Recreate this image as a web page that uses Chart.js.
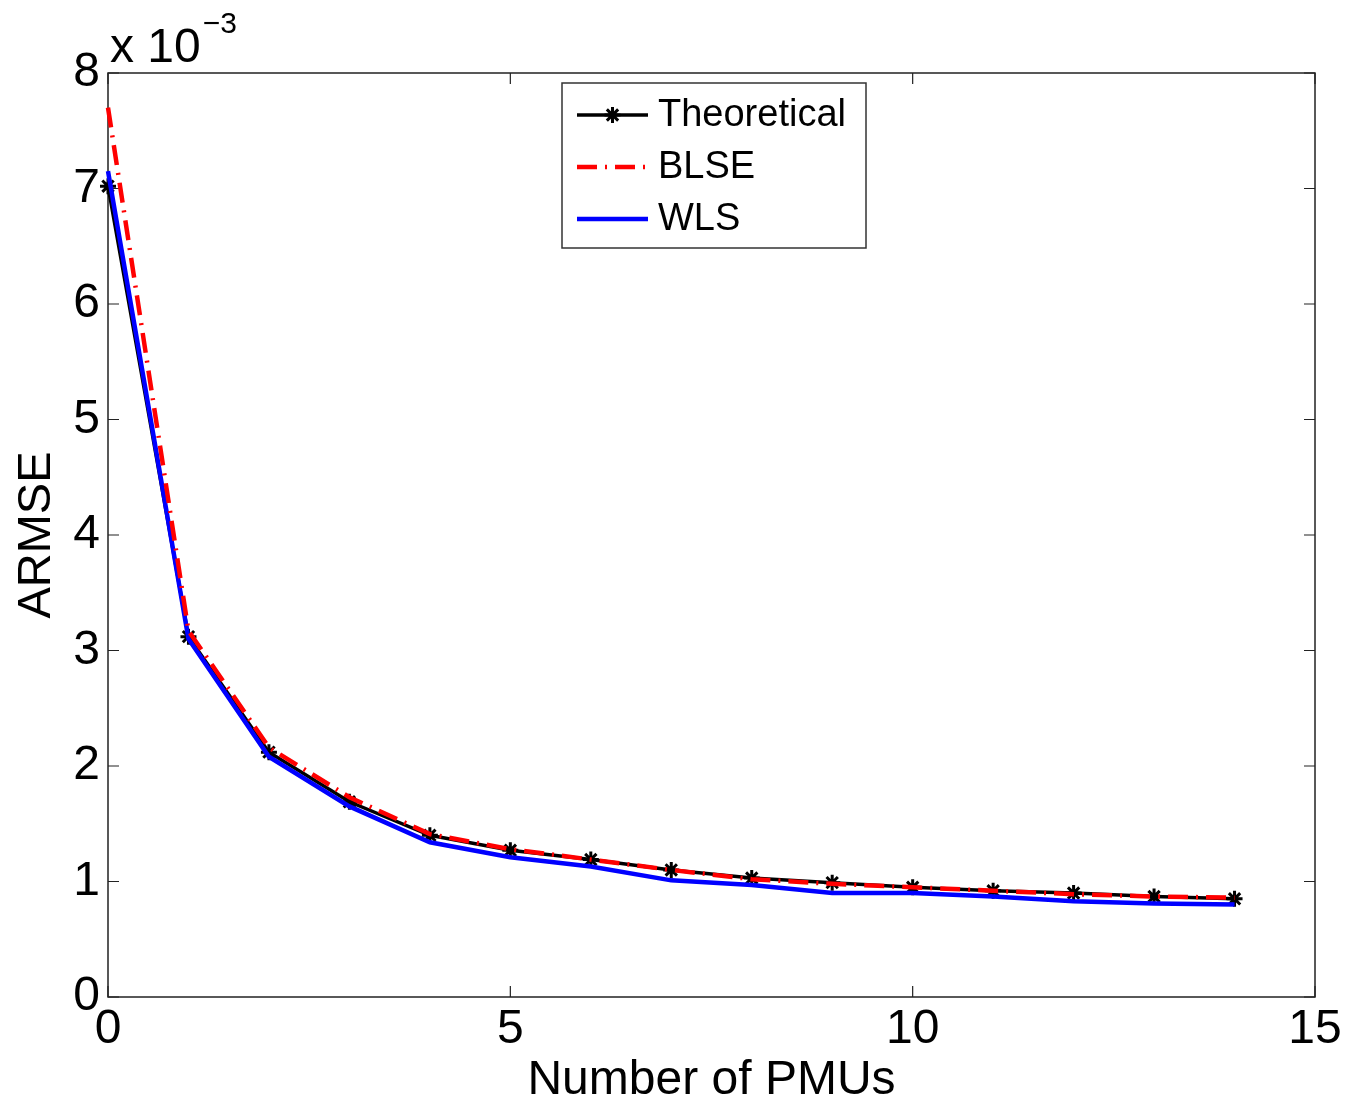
<!DOCTYPE html>
<html>
<head>
<meta charset="utf-8">
<script src="https://cdn.jsdelivr.net/npm/chart.js@4"></script>
<style>
html,body{margin:0;padding:0;background:#fff;}
#wrap{width:1348px;height:1102px;position:relative;}
</style>
</head>
<body>
<div id="wrap"><canvas id="c"></canvas></div>
<script>
// Values in units of 1e-3
const pmus = [0,1,2,3,4,5,6,7,8,9,10,11,12,13,14];
const theoretical = [7.02,3.12,2.12,1.69,1.40,1.27,1.19,1.10,1.03,0.99,0.95,0.92,0.90,0.87,0.85];
const blse        = [7.70,3.17,2.16,1.73,1.41,1.28,1.19,1.10,1.02,0.98,0.95,0.92,0.89,0.87,0.86];
const wls         = [7.15,3.10,2.08,1.65,1.34,1.21,1.13,1.01,0.97,0.90,0.90,0.87,0.83,0.81,0.80];
const xTicks = [0,5,10,15];
const yTicks = [0,1,2,3,4,5,6,7,8];
const seriesNames = ['Theoretical','BLSE','WLS'];
const exponentText = ['x 10','\u22123'];

const FONT = '"Liberation Sans", Arial, Helvetica, sans-serif';
const toXY = arr => arr.map((v,i)=>({x:pmus[i], y:v}));

const boxPlugin = {
  id:'box',
  beforeDatasetsDraw(chart){
    const {ctx, chartArea:a, scales:{x,y}} = chart;
    ctx.save();
    ctx.strokeStyle = '#222';
    ctx.lineWidth = 1.5;
    ctx.strokeRect(a.left, a.top, a.right-a.left, a.bottom-a.top);
    ctx.lineWidth = 1.2;
    const tl = 11;
    ctx.beginPath();
    xTicks.forEach(v=>{
      const px = x.getPixelForValue(v);
      ctx.moveTo(px,a.bottom); ctx.lineTo(px,a.bottom-tl);
      ctx.moveTo(px,a.top); ctx.lineTo(px,a.top+tl);
    });
    yTicks.forEach(v=>{
      const py = y.getPixelForValue(v);
      ctx.moveTo(a.left,py); ctx.lineTo(a.left+tl,py);
      ctx.moveTo(a.right,py); ctx.lineTo(a.right-tl,py);
    });
    ctx.stroke();
    ctx.restore();
  },
  afterDraw(chart){
    const {ctx, chartArea:a} = chart;
    ctx.save();
    // exponent label
    ctx.fillStyle = '#000';
    ctx.textBaseline = 'alphabetic';
    ctx.textAlign = 'left';
    ctx.font = '48px ' + FONT;
    ctx.fillText(exponentText[0], a.left + 2, 62);
    const w = ctx.measureText(exponentText[0]).width;
    ctx.font = '30px ' + FONT;
    ctx.fillText(exponentText[1], a.left + 4 + w, 33);
    // legend
    const lx = 562, ly = 83, lw = 304, lh = 165;
    ctx.fillStyle = '#fff';
    ctx.fillRect(lx, ly, lw, lh);
    ctx.strokeStyle = '#333';
    ctx.lineWidth = 1.5;
    ctx.strokeRect(lx, ly, lw, lh);
    const ds = chart.data.datasets;
    const rows = [115, 167, 219];
    [0,1,2].forEach((di, r)=>{
      const d = ds[di];
      const yy = rows[r];
      ctx.save();
      ctx.strokeStyle = d.borderColor;
      ctx.lineWidth = d.borderWidth;
      ctx.setLineDash(d.borderDash || []);
      ctx.beginPath();
      ctx.moveTo(577, yy); ctx.lineTo(648, yy);
      ctx.stroke();
      ctx.restore();
      if (d.pointRadius > 0) {
        ctx.save();
        ctx.strokeStyle = d.pointBorderColor;
        ctx.fillStyle = d.pointBackgroundColor;
        ctx.lineWidth = d.pointBorderWidth;
        Chart.helpers.drawPoint(ctx, {pointStyle:d.pointStyle, radius:d.pointRadius, borderWidth:d.pointBorderWidth, rotation:0}, 612.5, yy);
        ctx.restore();
      }
      ctx.fillStyle = '#000';
      ctx.font = '38px ' + FONT;
      ctx.textBaseline = 'middle';
      ctx.fillText(d.label, 658, yy + 1);
    });
    ctx.restore();
  }
};

new Chart(document.getElementById('c'), {
  type:'line',
  data:{
    datasets:[
      {label:seriesNames[0], data:toXY(theoretical), borderColor:'#000', borderWidth:3.5,
       pointStyle:'star', pointRadius:8, pointBorderWidth:3, pointBorderColor:'#000', pointBackgroundColor:'#000',
       clip:false, order:3, tension:0},
      {label:seriesNames[1], data:toXY(blse), borderColor:'#ff0000', borderWidth:4.5, borderDash:[20,8,2,8],
       pointRadius:0, clip:false, order:1, tension:0},
      {label:seriesNames[2], data:toXY(wls), borderColor:'#0000ff', borderWidth:4.5,
       pointRadius:0, clip:false, order:2, tension:0}
    ]
  },
  plugins:[boxPlugin],
  options:{
    responsive:true,
    maintainAspectRatio:false,
    animation:false,
    events:[],
    layout:{padding:{left:0, top:73, right:33, bottom:0}},
    plugins:{legend:{display:false}, tooltip:{enabled:false}},
    scales:{
      x:{
        type:'linear', min:0, max:15,
        afterBuildTicks(s){ s.ticks = xTicks.map(v=>({value:v})); },
        afterFit(s){ s.height = 105; },
        grid:{display:false, drawTicks:false},
        border:{display:false},
        ticks:{color:'#000', font:{family:FONT, size:48}, padding:4, maxRotation:0, autoSkip:false},
        title:{display:true, text:'Number of PMUs', color:'#000', font:{family:FONT, size:48}, padding:{top:0,bottom:-8}}
      },
      y:{
        type:'linear', min:0, max:8,
        afterBuildTicks(s){ s.ticks = yTicks.map(v=>({value:v})); },
        afterFit(s){ s.width = 108; },
        grid:{display:false, drawTicks:false},
        border:{display:false},
        ticks:{color:'#000', font:{family:FONT, size:48}, padding:8, autoSkip:false},
        title:{display:true, text:'ARMSE', color:'#000', font:{family:FONT, size:47}, padding:{top:9,bottom:0}}
      }
    }
  }
});
</script>
</body>
</html>
